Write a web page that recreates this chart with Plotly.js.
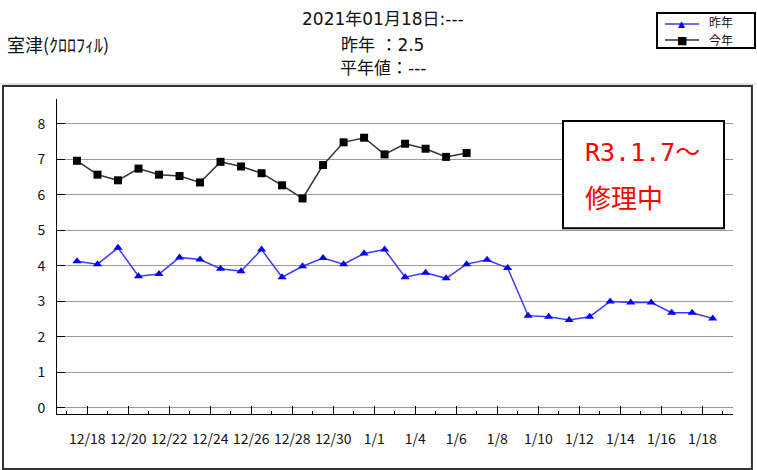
<!DOCTYPE html>
<html>
<head>
<meta charset="utf-8">
<script src="https://cdn.plot.ly/plotly-3.0.1.min.js"></script>
<style>html,body{margin:0;padding:0;background:#fff;}#chart{width:757px;height:470px;}</style>
</head>
<body>
<div id="chart"></div>
<script>
// categories (one per observation day)
const dates = ['12/17','12/18','12/19','12/20','12/21','12/22','12/23','12/24','12/25','12/26','12/27','12/28','12/29','12/30','12/31',
  '1/1','1/3','1/4','1/5','1/6','1/7','1/8','1/9','1/10','1/11','1/12','1/13','1/14','1/15','1/16','1/17','1/18'];
// 昨年 (last year)
const lastYear = [4.13,4.05,4.51,3.71,3.77,4.24,4.18,3.92,3.85,4.46,3.68,3.99,4.22,4.05,4.35,4.46,
  3.68,3.81,3.65,4.05,4.17,3.94,2.60,2.57,2.48,2.57,3.00,2.97,2.97,2.68,2.68,2.52];
// 今年 (this year) — stops at 1/6
const thisYear = [6.96,6.57,6.41,6.74,6.57,6.53,6.35,6.93,6.80,6.61,6.27,5.90,6.84,7.48,7.61,7.14,
  7.44,7.30,7.07,7.18];
// x tick labels (placed on every second category boundary)
const tickLabels = ['12/18','12/20','12/22','12/24','12/26','12/28','12/30','1/1','1/4','1/6','1/8','1/10','1/12','1/14','1/16','1/18'];
const tickPos = tickLabels.map((t,i)=>0.5+2*i);
const yTicks = [0,1,2,3,4,5,6,7,8];
const seriesNames = ['昨年','今年'];
const seriesColors = ['#0000ff','#000000'];
const lineColors = ['#3b3bff','#333333'];

const xi = dates.map((d,i)=>i);
const FONT = '"Noto Sans CJK JP", "Noto Sans", sans-serif';
const TFONT = '"DejaVu Sans", "Noto Sans CJK JP", sans-serif';

const traces = [
  {x: xi.slice(0,lastYear.length), y: lastYear, text: dates, name:seriesNames[0], type:'scatter', mode:'lines+markers',
   line:{color:lineColors[0], width:1.5}, marker:{symbol:'triangle-up', size:8, color:seriesColors[0]}},
  {x: xi.slice(0,thisYear.length), y: thisYear, text: dates, name:seriesNames[1], type:'scatter', mode:'lines+markers',
   line:{color:lineColors[1], width:1.5}, marker:{symbol:'square', size:8, color:seriesColors[1]}}
];

// compact legend drawn as decoration (paper coordinates)
const legendShapes = [
  {type:'rect', xref:'paper', yref:'paper', x0:0.8876, x1:1.0325, y0:1.1619, y1:1.2730, line:{color:'#000', width:2}, fillcolor:'#fff'},
  {type:'line', xref:'paper', yref:'paper', x0:0.8994, x1:0.9497, y0:1.2381, y1:1.2381, line:{color:lineColors[0], width:1.5}},
  {type:'line', xref:'paper', yref:'paper', x0:0.8994, x1:0.9497, y0:1.1873, y1:1.1873, line:{color:lineColors[1], width:1.5}}
];
const legendAnn = [
  {text:'▲', xref:'paper', yref:'paper', x:0.9245, y:1.2395, showarrow:false, xanchor:'center', yanchor:'middle', font:{size:9, family:'DejaVu Sans', color:seriesColors[0]}},
  {text:'■', xref:'paper', yref:'paper', x:0.9245, y:1.1873, showarrow:false, xanchor:'center', yanchor:'middle', font:{size:11, family:'DejaVu Sans', color:seriesColors[1]}},
  {text:seriesNames[0], xref:'paper', yref:'paper', x:0.962, y:1.2413, showarrow:false, xanchor:'left', yanchor:'middle', font:{size:12, family:TFONT, color:'#111'}},
  {text:seriesNames[1], xref:'paper', yref:'paper', x:0.962, y:1.1873, showarrow:false, xanchor:'left', yanchor:'middle', font:{size:12, family:TFONT, color:'#111'}}
];

const layout = {
  width:757, height:470,
  margin:{l:57, r:24, t:99, b:56},
  paper_bgcolor:'#fff', plot_bgcolor:'#fff',
  font:{family:FONT, color:'#111', size:13},
  showlegend:false,
  xaxis:{range:[-0.975, 31.99], tickmode:'array', tickvals:tickPos, ticktext:tickLabels,
    showgrid:false, zeroline:false, showline:true, linecolor:'#000', linewidth:1,
    ticks:'inside', ticklen:8, tickcolor:'#000', tickwidth:1, ticklabelstandoff:12,
    tickfont:{size:14, family:FONT, color:'#111'},
    minor:{ticks:'inside', ticklen:3, tickcolor:'#000', tickwidth:1, tick0:-0.5, dtick:1, showgrid:false},
    fixedrange:true},
  yaxis:{range:[-0.17, 8.7], tickmode:'array', tickvals:yTicks, ticktext:yTicks.map(String),
    showgrid:true, gridcolor:'#9a9a9a', gridwidth:1, zeroline:false,
    showline:true, linecolor:'#000', linewidth:1,
    ticks:'inside', ticklen:8, tickcolor:'#000', ticklabelstandoff:8,
    tickfont:{size:14, family:FONT, color:'#111'}, fixedrange:true},
  shapes:[
    {type:'line', xref:'paper', yref:'paper', x0:-0.084, x1:1.036, y0:1.0476, y1:1.0476, line:{color:'#c8c8c8', width:1}},
    {type:'rect', xref:'paper', yref:'paper', x0:-0.0799, x1:1.028, y0:-0.1746, y1:1.0413, line:{color:'#333', width:2}},
    {type:'rect', xref:'paper', yref:'paper', x0:0.7485, x1:0.9867, y0:0.590, y1:0.930, line:{color:'#000', width:2}, fillcolor:'#fff', layer:'above'}
  ].concat(legendShapes),
  annotations:[
    {text:'2021年01月18日:---', xref:'paper', yref:'paper', x:0.482, y:1.254, showarrow:false, xanchor:'center', yanchor:'middle', font:{size:17, family:TFONT, color:'#111'}},
    {text:'昨年 ：2.5', xref:'paper', yref:'paper', x:0.482, y:1.171, showarrow:false, xanchor:'center', yanchor:'middle', font:{size:17, family:TFONT, color:'#111'}},
    {text:'平年値：---', xref:'paper', yref:'paper', x:0.482, y:1.098, showarrow:false, xanchor:'center', yanchor:'middle', font:{size:17, family:TFONT, color:'#111'}},
    {text:'室津(ｸﾛﾛﾌｨﾙ)', xref:'paper', yref:'paper', x:-0.0769, y:1.1746, showarrow:false, xanchor:'left', yanchor:'middle', font:{size:18, family:FONT, color:'#111'}},
    {text:'R3.1.7～', xref:'paper', yref:'paper', x:0.778, y:0.8286, showarrow:false, xanchor:'left', yanchor:'middle', font:{size:25, family:'"DejaVu Sans Mono", "Noto Sans CJK JP", monospace', color:'#ff0000'}},
    {text:'修理中', xref:'paper', yref:'paper', x:0.778, y:0.689, showarrow:false, xanchor:'left', yanchor:'middle', font:{size:26, family:FONT, color:'#ff0000'}}
  ].concat(legendAnn)
};

Plotly.newPlot('chart', traces, layout, {displayModeBar:false, staticPlot:true});
</script>
</body>
</html>
